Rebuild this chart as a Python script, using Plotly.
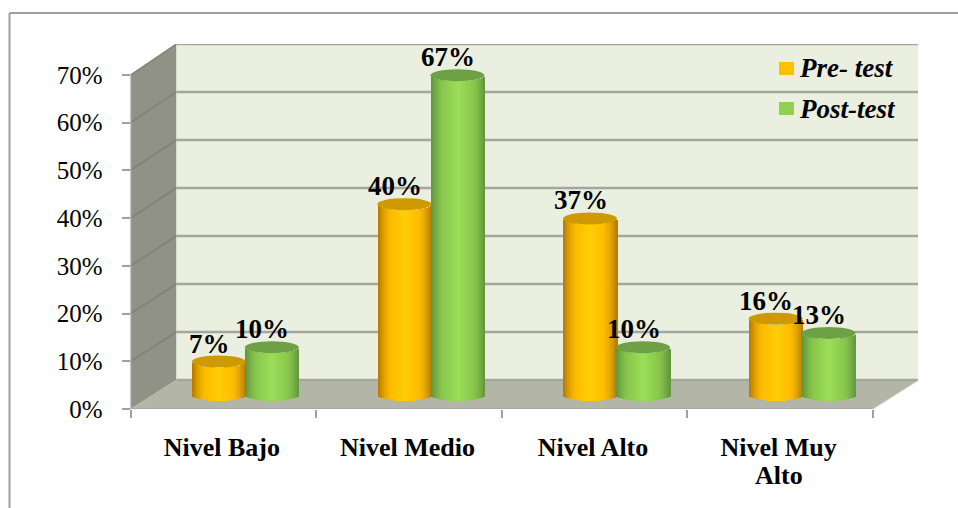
import numpy as np
import plotly.graph_objects as go

categories = ["Nivel Bajo", "Nivel Medio", "Nivel Alto", "Nivel Muy<br>Alto"]
pre_test = [7, 40, 37, 16]
post_test = [10, 67, 10, 13]
y_ticks = [0, 10, 20, 30, 40, 50, 60, 70]

W, H = 958, 508
L, R, T, B = 130.5, 918, 44, 409    # plot box in page pixels
PX_X = 185.6                        # pixels per category
PX_Y = 334 / 70                     # pixels per percent
xr = (R - L) / PX_X
yr = (B - T) / PX_Y
DX, DY = 46 / PX_X, 29 / PX_Y       # depth of the box
BACK = 336 / 334                    # back wall is very slightly taller
N = len(categories)


def poly(pts):
    return "M" + " L".join(f"{x},{y}" for x, y in pts) + " Z"


shapes = []
common = dict(xref="x", yref="y", layer="below")
top_back = 70 * BACK + DY
# left wall, floor, back wall
shapes.append(dict(type="path", path=poly([(0, 0), (DX, DY), (DX, top_back), (0, 70)]),
                   fillcolor="#8f9285", line=dict(width=0), **common))
shapes.append(dict(type="path", path=poly([(0, 0), (DX, DY), (N + DX, DY), (N, 0)]),
                   fillcolor="#b3b5a7", line=dict(width=0), **common))
shapes.append(dict(type="path", path=poly([(DX, DY), (DX, top_back), (N + DX, top_back), (N + DX, DY)]),
                   fillcolor="#ebefe0", line=dict(width=0), **common))
# grid lines on the walls
for t in y_ticks:
    if t > 0:
        shapes.append(dict(type="line", x0=0, y0=t, x1=DX, y1=t * BACK + DY,
                           line=dict(color="#7e8176", width=1.5), **common))
    shapes.append(dict(type="line", x0=DX, y0=t * BACK + DY, x1=N + DX, y1=t * BACK + DY,
                       line=dict(color="#a5a6a0", width=2.5), **common))
# front edges
shapes.append(dict(type="line", x0=0, y0=0, x1=0, y1=70, line=dict(color="#a8a8a8", width=2), **common))
shapes.append(dict(type="line", x0=0, y0=0, x1=N, y1=0, line=dict(color="#a8a8a8", width=2), **common))
shapes.append(dict(type="line", x0=N, y0=0, x1=N + DX, y1=DY, line=dict(color="#d0d0c8", width=1), **common))

fig = go.Figure()

# cylinders: each one is a stack of narrow bars shaded across its width
STRIP = 2 / PX_X
HALF = 27 / PX_X
CAP = 6 / PX_Y            # half height of the ellipse
BASE = 14 / PX_Y          # centre of the foot above the axis
CX_SHIFT = 22.5 / PX_X


def shade(c_dark, c_mid, c_light, u):
    u = abs(u)
    if u < 0.45:
        a, b, f = c_light, c_mid, u / 0.45
    else:
        a, b, f = c_mid, c_dark, ((u - 0.45) / 0.55) ** 1.6
    rgb = [round(a[i] + (b[i] - a[i]) * f) for i in range(3)]
    return f"rgb({rgb[0]},{rgb[1]},{rgb[2]})"


SERIES = [
    (pre_test, -27 / PX_X, ((178, 120, 0), (255, 190, 0), (255, 205, 5)), "#cf9a00"),
    (post_test, 26 / PX_X, ((98, 146, 62), (140, 204, 78), (155, 222, 90)), "#6ea145"),
]
centres = [i + 0.5 + CX_SHIFT for i in range(N)]
n_strips = int(round(2 * HALF / STRIP))
for vals, off, cols, cap_col in SERIES:
    for s in range(n_strips):
        u = -1 + (2 * s + 1) / n_strips
        drop = CAP * np.sqrt(max(0, 1 - u * u))
        xs = [c + off + u * HALF for c in centres]
        base = [BASE - drop] * N
        fig.add_trace(go.Bar(x=xs, y=vals, base=base, width=STRIP * 1.02,
                             marker=dict(color=shade(*cols, u), line=dict(width=0)),
                             showlegend=False, hoverinfo="skip"))
    for c, v in zip(centres, vals):
        shapes.append(dict(type="circle", xref="x", yref="y", layer="above",
                           x0=c + off - HALF, x1=c + off + HALF,
                           y0=BASE + v - CAP, y1=BASE + v + CAP,
                           fillcolor=cap_col, line=dict(width=0)))

annotations = []
label_font = dict(family="Liberation Serif", size=27, color="#000000")
for vals, off, _, _ in SERIES:
    for c, v in zip(centres, vals):
        annotations.append(dict(x=c + off - 9.5 / PX_X, y=BASE + v + CAP + 12 / PX_Y,
                                text=f"<b>{v}%</b>", showarrow=False, yanchor="middle",
                                xref="x", yref="y", font=label_font))

# legend, as the original draws it inside the back wall
for name, col, ypx in [("Pre- test", "#ffc000", 68.5), ("Post-test", "#92d050", 108.5)]:
    annotations.append(dict(xref="paper", yref="paper", x=797 / W, y=1 - ypx / H,
                            text=f"<b><i>{name}</i></b>", showarrow=False, xanchor="left", yanchor="middle",
                            font=dict(family="Liberation Serif", size=27, color="#000000")))
    shapes.append(dict(type="rect", xref="paper", yref="paper", x0=779 / W, x1=794 / W,
                       y0=1 - (ypx + 6.5) / H, y1=1 - (ypx - 6.5) / H,
                       fillcolor=col, line=dict(width=0)))

# category labels: second lines sit closer than the font's line height, so they are placed on their own
first_lines = [c.split("<br>")[0] for c in categories]
tick_pos = [i + 0.5 - 0.008 for i in range(N)]
for p, c in zip(tick_pos, categories):
    for extra in c.split("<br>")[1:]:
        annotations.append(dict(xref="x", yref="paper", x=p, y=1 - 475 / H, text=f"<b>{extra}</b>",
                                showarrow=False, yanchor="middle",
                                font=dict(family="Liberation Serif", size=26, color="#000000")))

# outer frame
frame = dict(color="#a0a0a0", width=2)
shapes.append(dict(type="line", xref="paper", yref="paper", x0=9.5 / W, x1=9.5 / W, y0=0, y1=1 - 13 / H, line=frame))
shapes.append(dict(type="line", xref="paper", yref="paper", x0=9.5 / W, x1=1, y0=1 - 13 / H, y1=1 - 13 / H, line=frame))

fig.update_layout(
    width=W, height=H, autosize=False,
    margin=dict(l=0, r=0, t=0, b=0),
    paper_bgcolor="white", plot_bgcolor="white",
    barmode="overlay", bargap=0,
    shapes=shapes, annotations=annotations, showlegend=False,
    xaxis=dict(domain=[L / W, R / W], range=[0, xr], showgrid=False, zeroline=False, showline=False,
               automargin=False,
               tickmode="array", tickvals=tick_pos,
               ticktext=[f"<b>{c}</b>" for c in first_lines],
               ticks="", ticklabelstandoff=20,
               tickfont=dict(family="Liberation Serif", size=26, color="#000000"),
               minor=dict(tickmode="array", tickvals=list(range(N + 1)), ticks="outside", ticklen=8,
                          tickcolor="#a0a0a0", tickwidth=2)),
    yaxis=dict(domain=[1 - B / H, 1 - T / H], range=[0, yr], showgrid=False, zeroline=False, showline=False,
               automargin=False,
               tickmode="array", tickvals=y_ticks, ticktext=[f"{t}%" for t in y_ticks],
               ticks="outside", ticklen=8, tickcolor="#a0a0a0", tickwidth=2, ticklabelstandoff=14,
               tickfont=dict(family="Liberation Serif", size=25, color="#000000")),
)
fig.write_html("out.html", config={"displayModeBar": False},
               post_script="document.body.style.margin='0';document.documentElement.style.overflow='hidden';")
